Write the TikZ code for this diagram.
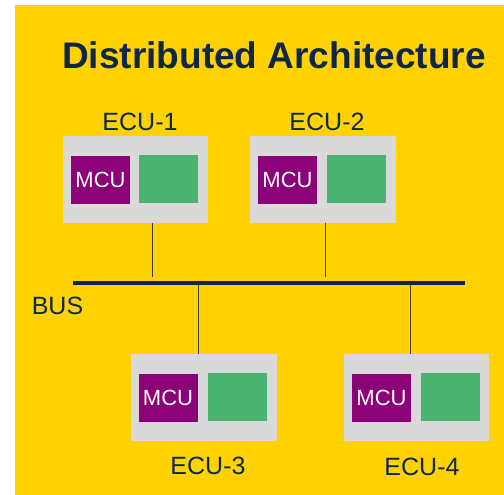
\documentclass[tikz,border=0pt]{standalone}
\usepackage{fontspec}
\setmainfont{Liberation Sans}
\definecolor{bgyellow}{HTML}{FFD200}
\definecolor{navy}{HTML}{0E2747}
\definecolor{boxgrey}{HTML}{D9D9D9}
\definecolor{mcupurple}{HTML}{8C0078}
\definecolor{modgreen}{HTML}{4AB371}
\definecolor{wiregrey}{HTML}{3A3A3A}
\tikzset{
  ecubox/.style={rectangle, fill=boxgrey, inner sep=0pt, minimum width=146pt, minimum height=87pt},
  mcubox/.style={rectangle, fill=mcupurple, inner sep=0pt, minimum width=59pt, minimum height=48pt,
    text=white, font=\fontsize{22}{22}\selectfont},
  greenbox/.style={rectangle, fill=modgreen, inner sep=0pt, minimum width=59pt, minimum height=48pt},
  eculabel/.style={text=navy, inner sep=0pt, font=\fontsize{25}{25}\selectfont},
  wire/.style={draw=wiregrey, line width=1pt},
  bus/.style={draw=navy, line width=4.3pt}
}
\begin{document}
\begin{tikzpicture}[x=1pt,y=-1pt]
\useasboundingbox (0,0) rectangle (504,495);
\fill[bgyellow] (15,5) rectangle (504,495);
\node[text=navy, font=\fontsize{37}{37}\selectfont\bfseries, inner sep=0pt] (title) at (274,55) {Distributed Architecture};
% ECU boxes
\node[ecubox, minimum width=145pt] (ecu1) at (135.5,179.5) {};
\node[mcubox] (mcu1) at (100.5,180) {MCU};
\node[greenbox] (g1) at (168.5,179) {};
\node[eculabel] (l1) at (140,122) {ECU-1};

\node[ecubox] (ecu2) at (323,179.5) {};
\node[mcubox] (mcu2) at (287.5,180) {MCU};
\node[greenbox] (g2) at (356.5,179) {};
\node[eculabel] (l2) at (327,122) {ECU-2};

\node[ecubox] (ecu3) at (204,397.5) {};
\node[mcubox] (mcu3) at (168,398) {MCU};
\node[greenbox] (g3) at (237,397) {};
\node[eculabel] (l3) at (208,466) {ECU-3};

\node[ecubox, minimum width=145pt] (ecu4) at (416.5,397.5) {};
\node[mcubox] (mcu4) at (381.5,398) {MCU};
\node[greenbox] (g4) at (450,397) {};
\node[eculabel] (l4) at (422,467) {ECU-4};
% bus
\coordinate (busL) at (73,283);
\coordinate (busR) at (465,283);
\draw[bus] (busL) -- (busR);
\node[eculabel] (buslabel) at (57.5,306) {BUS};
% taps
\coordinate (t1) at (152.3,277);
\coordinate (t2) at (325.5,277);
\coordinate (t3) at (198,285);
\coordinate (t4) at (410,285);
\draw[wire] (ecu1.south -| t1) -- (t1);
\draw[wire] (ecu2.south -| t2) -- (t2);
\draw[wire] (t3) -- (ecu3.north -| t3);
\draw[wire] (t4) -- (ecu4.north -| t4);
\end{tikzpicture}
\end{document}
